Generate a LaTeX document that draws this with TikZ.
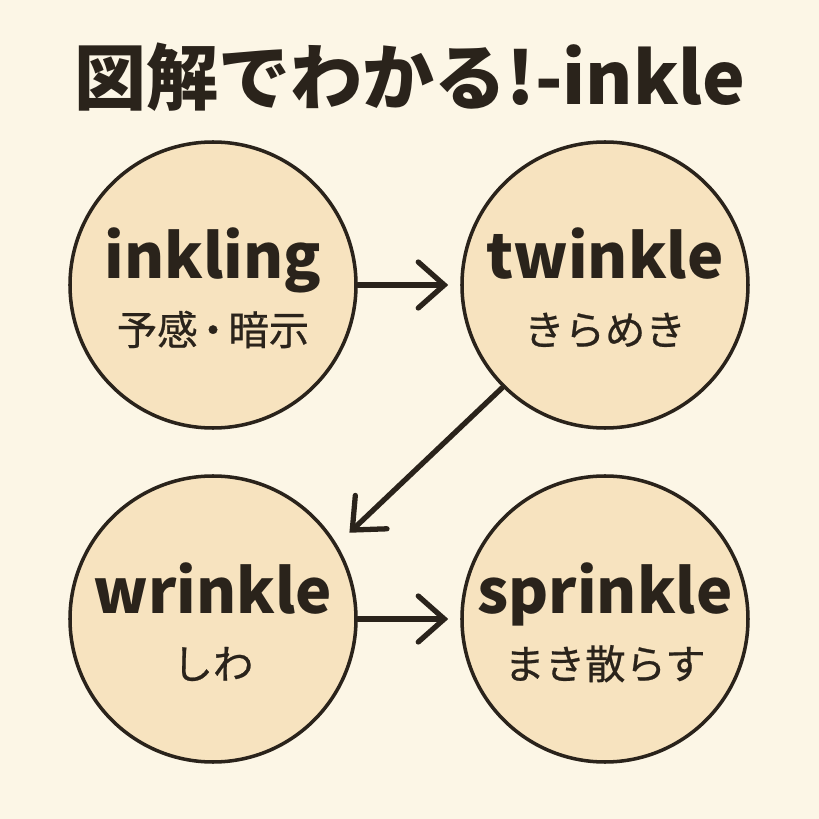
\documentclass[tikz,border=0pt]{standalone}
\usepackage{fontspec}
\setmainfont{Noto Sans CJK JP}
\newfontfamily\jamed{Noto Sans CJK JP}[FakeBold=0.6]
\usepackage{tikz}
\usetikzlibrary{arrows.meta}

\definecolor{paper}{HTML}{FCF6E6}
\definecolor{disc}{HTML}{F7E3BF}
\definecolor{ink}{HTML}{2A231B}

\begin{document}
\begin{tikzpicture}[
    word/.style={circle, draw=ink, line width=1pt, fill=disc,
      minimum size=2.86cm, inner sep=0pt},
    entext/.style={anchor=base, text=ink, inner sep=0pt,
      font=\fontsize{17.4}{20}\selectfont\bfseries},
    jatext/.style={anchor=base, text=ink, inner sep=0pt,
      font=\fontsize{11.5}{13}\selectfont\jamed},
    flow/.style={draw=ink, line width=1.5pt, line cap=round,
      -{Straight Barb[length=0.26cm, width=0.46cm, line cap=round]}}
  ]
  \fill [paper] (0,0) rectangle (8.19,8.19);
  \useasboundingbox (0,0) rectangle (8.19,8.19);

  % title
  \node [anchor=base, text=ink, inner sep=0pt,
    font=\fontsize{20.5}{24}\selectfont\bfseries] (title) at (4.10,7.14)
    {図解でわかる!-inkle};

  % the four words
  \node [word] (inkling) at (2.13,5.34) {};
  \node [word] (twinkle) at (6.05,5.34) {};
  \node [word] (wrinkle) at (2.13,2.00) {};
  \node [word] (sprinkle) at (6.05,2.00) {};

  \node [entext] (inkling-en) at ([yshift=0.06cm]inkling.center) {inkling};
  \node [jatext] (inkling-ja) at ([yshift=-0.60cm]inkling.center)
    {予感\kern-0.12em・\kern-0.12em暗示};
  \node [entext] (twinkle-en) at ([yshift=0.06cm]twinkle.center) {twinkle};
  \node [jatext] (twinkle-ja) at ([yshift=-0.60cm]twinkle.center) {きらめき};
  \node [entext] (wrinkle-en) at ([yshift=0.06cm]wrinkle.center) {wrinkle};
  \node [jatext] (wrinkle-ja) at ([yshift=-0.60cm]wrinkle.center) {しわ};
  \node [entext] (sprinkle-en) at ([yshift=0.06cm]sprinkle.center) {sprinkle};
  \node [jatext] (sprinkle-ja) at ([yshift=-0.60cm]sprinkle.center) {まき散らす};

  % arrows
  \draw [flow, shorten >=0.12cm] (inkling.east) -- (twinkle.west);
  \draw [flow, shorten >=0.17cm] (twinkle.225) -- (wrinkle.31);
  \draw [flow, shorten >=0.12cm] (wrinkle.east) -- (sprinkle.west);
\end{tikzpicture}
\end{document}
